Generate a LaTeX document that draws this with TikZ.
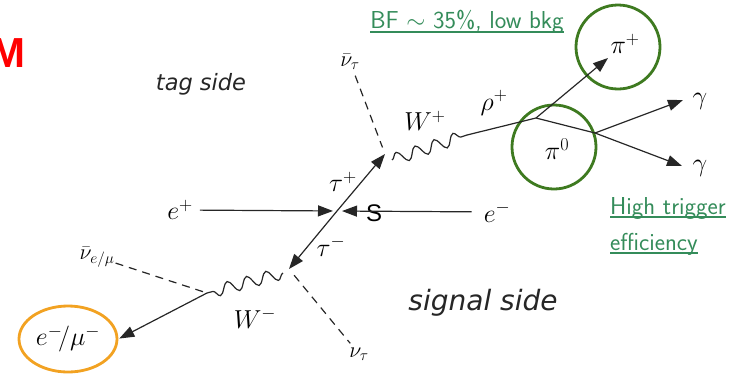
\RequirePackage{fix-cm}
\documentclass[tikz,border=0pt]{standalone}
\usepackage{fontspec}
\newfontfamily\sidefont{DejaVu Sans}
\newfontfamily\markfont{Liberation Sans}
\usetikzlibrary{arrows.meta,decorations.pathmorphing,shapes.geometric}
\definecolor{notegreen}{RGB}{52,140,90}
\definecolor{ringgreen}{RGB}{62,122,32}
\definecolor{ringorange}{RGB}{242,162,34}
\newcommand{\noteline}[1]{\setbox0\hbox{#1}\rlap{\rule[-4pt]{\wd0}{1.8pt}}\box0}

\tikzset{
  fermion/.style={black!85, line width=1.2pt, -{Triangle[length=15pt,width=11pt]}},
  plainline/.style={black!85, line width=1.2pt},
  boson/.style={black!85, line width=1.2pt, decorate,
    decoration={snake, amplitude=6pt, segment length=20pt}},
  neutrino/.style={black!85, line width=1.2pt, dash pattern=on 8pt off 6pt},
  ring/.style={circle, draw=ringgreen, line width=2.8pt, minimum size=84pt, inner sep=0pt},
  particle/.style={inner sep=1pt, font=\fontsize{26}{28}\selectfont},
  smallparticle/.style={inner sep=1pt, font=\fontsize{22}{24}\selectfont},
  side/.style={font=\sidefont\itshape\fontsize{22.5}{24}\selectfont, text=black!85},
  note/.style={font=\sffamily\fontsize{24.5}{36}\selectfont, text=notegreen, align=left, inner sep=0pt}
}

\begin{document}
\begin{tikzpicture}[x=1pt,y=-1pt]
  \useasboundingbox (0,0) rectangle (744,378);
  % red mark, cut at the left edge
  \node[anchor=base east, inner sep=0pt, text=red,
    font=\markfont\bfseries\fontsize{42}{42}\selectfont] (mark) at (26,67) {M};
  \node[side] (tagside) at (201,84) {tag side};
  \node[side, font=\sidefont\itshape\fontsize{28}{30}\selectfont] (signalside) at (483,303) {signal side};

  % vertices
  \coordinate (C) at (337,211);
  \coordinate (V1) at (385,154);
  \coordinate (V2) at (289,269);
  \coordinate (wpstart) at (392,160);
  \coordinate (R) at (467,135);
  \coordinate (J) at (536,118);
  \coordinate (P) at (595,133);
  \coordinate (wmstart) at (283,273);
  \coordinate (L) at (207,293);
  \coordinate (pipend) at (608,58);
  \coordinate (g1end) at (683,100);
  \coordinate (g2end) at (682,166);

  % labels
  \node[particle] (eplus) at (180,210) {$e^+$};
  \node[particle] (eminus) at (497,212) {$e^-$};
  \node[particle] (tauplus) at (343,182) {$\tau^+$};
  \node[particle] (tauminus) at (331,246) {$\tau^-$};
  \node[particle] (Wplus) at (425,121) {$W^+$};
  \node[particle] (rhoplus) at (494,103) {$\rho^+$};
  \node[particle] (Wminus) at (255,318) {$W^-$};
  \node[particle] (pip) at (625,44) {$\pi^+$};
  \node[particle] (pizero) at (557,149) {$\pi^0$};
  \foreach \n/\y in {gammaone/101, gammatwo/168}
    \node[particle] (\n) at (700,\y) {$\gamma$};
  \node[smallparticle] (nubartau) at (350,62) {$\bar\nu_\tau$};
  \node[smallparticle] (nubarl) at (97,257) {$\bar\nu_{e/\mu}$};
  \node[smallparticle] (nutau) at (359,354) {$\nu_\tau$};
  \node[inner sep=0pt, font=\markfont\fontsize{24}{26}\selectfont] (S) at (374,213) {S};

  % rings
  \node[ring] (pipring) at (618,47) {};
  \node[ring] (pizring) at (554,147) {};
  \node[ellipse, draw=ringorange, line width=2.8pt, minimum width=98pt,
    minimum height=66pt, particle] (lep) at (68,339) {$e^-\!/\mu^-$};

  % beams and taus
  \draw[fermion, shorten <=6pt, shorten >=4pt] (eplus) -- (C);
  \draw[fermion, shorten <=11pt, shorten >=5pt] (eminus) -- (C);
  \draw[fermion] (C) -- (V1);
  \draw[fermion] (C) -- (V2);

  % tag side
  \draw[neutrino, shorten <=5pt, shorten >=7pt] (nubartau) -- (V1);
  \draw[boson] (wpstart) -- (R);
  \draw[plainline] (R) -- (J);
  \draw[fermion] (J) -- (pipend);
  \draw[plainline] (J) -- (P);
  \draw[fermion] (P) -- (g1end);
  \draw[fermion] (P) -- (g2end);

  % signal side
  \draw[neutrino, shorten <=8pt, shorten >=4pt] (V2) -- (nutau);
  \draw[boson] (wmstart) -- (L);
  \draw[neutrino, shorten >=2pt] (nubarl) -- (L);
  \draw[fermion, shorten >=1pt] (L) -- (lep.east);

  % notes
  \node[note] (bfnote) at (467,22) {\noteline{BF $\sim$ 35\%, low bkg}};
  \node[note, anchor=north west] (trignote) at (610,197)
    {\noteline{High trigger}\\\noteline{efficiency}};
\end{tikzpicture}
\end{document}
